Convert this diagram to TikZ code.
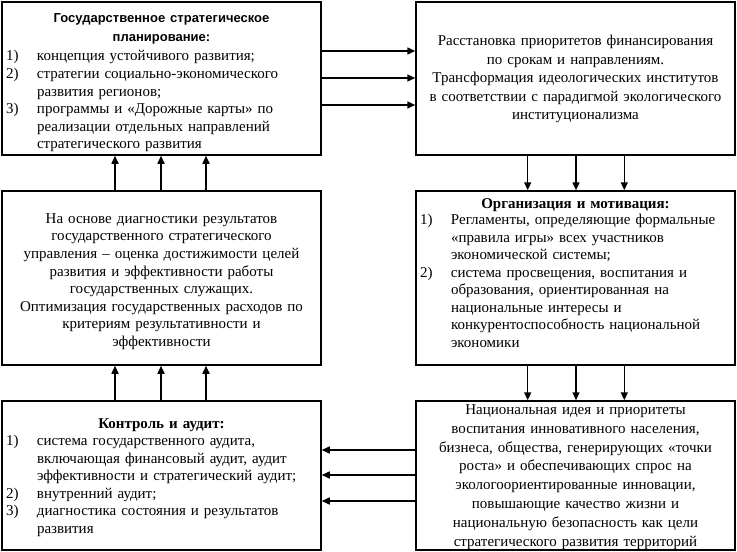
\documentclass[tikz,border=0pt]{standalone}
\usepackage{fontspec}
\setmainfont{Liberation Serif}
\newfontfamily\titlesans{Liberation Sans}
\usetikzlibrary{arrows.meta}
\newcommand\li[2]{\mbox{\makebox[31pt][l]{#1}#2}}
\newcommand\lc[1]{\mbox{\hspace*{31pt}#1}}
\newcommand\lt[1]{\makebox[\hsize][c]{#1}}
\begin{document}
\begin{tikzpicture}[x=1pt,y=-1pt,
  box/.style={draw, line width=1.5pt, inner sep=0pt, minimum width=319pt},
  txt/.style={inner sep=0pt, text width=311pt},
  ctr/.style={align=center},
  lft/.style={align=left},
  arr/.style={line width=1.5pt, -{Triangle[length=8pt,width=7pt]}}]
\useasboundingbox (0,0) rectangle (737,552);

% boxes
\node[box, minimum height=153pt] (tl) at (161.5,78.5) {};
\node[box, minimum height=153pt] (tr) at (575.5,78.5) {};
\node[box, minimum height=174pt] (ml) at (161.5,278) {};
\node[box, minimum height=174pt] (om) at (575.5,278) {};
\node[box, minimum height=149pt] (bl) at (161.5,475.5) {};
\node[box, minimum height=149pt] (br) at (575.5,475.5) {};

% texts
\node[txt, lft, font=\fontsize{15}{17.6}\selectfont] (tlt) at (161.5,83) {%
\lt{\titlesans\bfseries\fontsize{13}{17.6}\selectfont Государственное стратегическое}\\[1.4pt]
\lt{\titlesans\bfseries\fontsize{13}{17.6}\selectfont планирование:}\\[1.4pt]
\li{1)}{концепция устойчивого развития;}\\
\li{2)}{стратегии социально-экономического}\\
\lc{развития регионов;}\\
\li{3)}{программы и «Дорожные карты» по}\\
\lc{реализации отдельных направлений}\\
\lc{стратегического развития}};

\node[txt, ctr, font=\fontsize{15}{18.5}\selectfont] (trt) at (575.5,79) {%
Расстановка приоритетов финансирования\\
по срокам и направлениям.\\
Трансформация идеологических институтов\\
в соответствии с парадигмой экологического\\
институционализма};

\node[txt, ctr, font=\fontsize{15}{17.6}\selectfont] (mlt) at (161.5,281.5) {%
На основе диагностики результатов\\
государственного стратегического\\
управления – оценка достижимости целей\\
развития и эффективности работы\\
государственных служащих.\\
Оптимизация государственных расходов по\\
критериям результативности и\\
эффективности};

\node[txt, lft, font=\fontsize{15}{17.5}\selectfont] (omt) at (575.5,273) {%
\lt{\bfseries Организация и мотивация:}\\[-1.5pt]
\li{1)}{Регламенты, определяющие формальные}\\
\lc{«правила игры» всех участников}\\
\lc{экономической системы;}\\
\li{2)}{система просвещения, воспитания и}\\
\lc{образования, ориентированная на}\\
\lc{национальные интересы и}\\
\lc{конкурентоспособность национальной}\\
\lc{экономики}};

\node[txt, lft, font=\fontsize{15}{17.5}\selectfont] (blt) at (161.5,477.5) {%
\lt{\bfseries Контроль и аудит:}\\
\li{1)}{система государственного аудита,}\\
\lc{включающая финансовый аудит, аудит}\\
\lc{эффективности и стратегический аудит;}\\
\li{2)}{внутренний аудит;}\\
\li{3)}{диагностика состояния и результатов}\\
\lc{развития}};

\node[txt, ctr, font=\fontsize{15}{18.8}\selectfont] (brt) at (575.5,477) {%
Национальная идея и приоритеты\\
воспитания инновативного населения,\\
бизнеса, общества, генерирующих «точки\\
роста» и обеспечивающих спрос на\\
экологоориентированные инновации,\\
повышающие качество жизни и\\
национальную безопасность как цели\\
стратегического развития территорий};

% connectors
\foreach \s in {27.5,0.5,-26.5}
  \draw[arr] ([yshift=\s pt]tl.east) -- ([yshift=\s pt]tl.east -| tr.west);
\foreach \s in {-47.8,0.5,48.8} {
  \draw[arr] ([xshift=\s pt]tr.south) -- ([xshift=\s pt]tr.south |- om.north);
  \draw[arr] ([xshift=\s pt]om.south) -- ([xshift=\s pt]om.south |- br.north);
}
\foreach \s in {-46.5,-0.5,44.5} {
  \draw[arr] ([xshift=\s pt]bl.north) -- ([xshift=\s pt]bl.north |- ml.south);
  \draw[arr] ([xshift=\s pt]ml.north) -- ([xshift=\s pt]ml.north |- tl.south);
}
\foreach \s in {25.5,0.5,-25.5}
  \draw[arr] ([yshift=\s pt]br.west) -- ([yshift=\s pt]br.west -| bl.east);
\end{tikzpicture}
\end{document}
